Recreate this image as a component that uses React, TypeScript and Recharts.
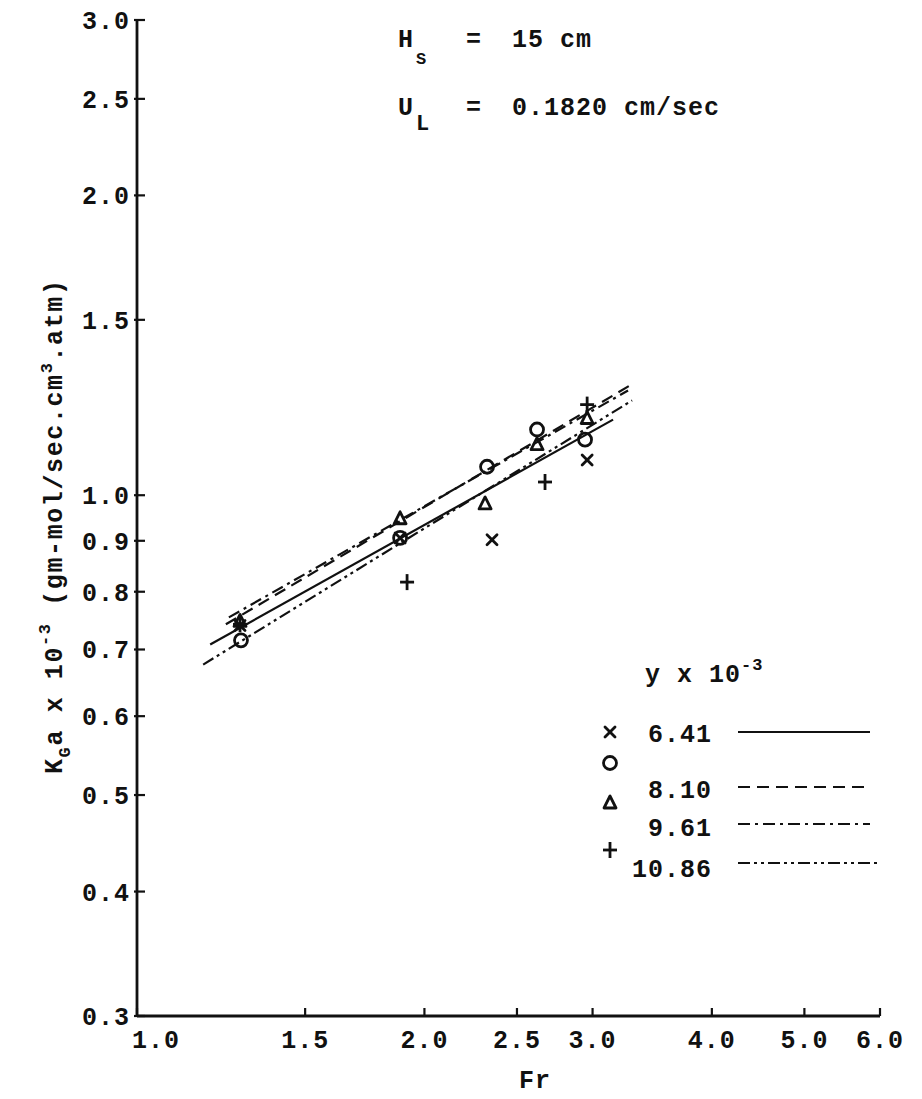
import React from 'react';
import { ComposedChart, XAxis, YAxis, Line, Scatter, Customized } from 'recharts';

const FONT = '"Liberation Mono", "DejaVu Sans Mono", monospace';

// Axis ticks (log-log paper)
const xTicks = [1.0, 1.5, 2.0, 2.5, 3.0, 4.0, 5.0, 6.0];
const xTickLabels = ['1.0', '1.5', '2.0', '2.5', '3.0', '4.0', '5.0', '6.0'];
const yTicks = [0.3, 0.4, 0.5, 0.6, 0.7, 0.8, 0.9, 1.0, 1.5, 2.0, 2.5, 3.0];
const yTickLabels = ['0.3', '0.4', '0.5', '0.6', '0.7', '0.8', '0.9', '1.0', '1.5', '2.0', '2.5', '3.0'];

// Series (y x 10^-3)
const seriesNames = ['6.41', '8.10', '9.61', '10.86'];

// Measured points: Fr and KGa x 10^-3
const fr641 = [1.282, 1.886, 2.354, 2.961];
const kga641 = [0.740, 0.906, 0.902, 1.085];
const fr810 = [1.285, 1.886, 2.326, 2.624, 2.946];
const kga810 = [0.715, 0.906, 1.068, 1.164, 1.137];
const fr961 = [1.282, 1.886, 2.315, 2.624, 2.961];
const kga961 = [0.747, 0.947, 0.980, 1.124, 1.194];
const fr1086 = [1.282, 1.918, 2.675, 2.961];
const kga1086 = [0.742, 0.818, 1.031, 1.233];

// Fitted lines (end points)
const fitFr641 = [1.193, 3.152];
const fitKga641 = [0.708, 1.191];
const fitFr810 = [1.239, 3.284];
const fitKga810 = [0.742, 1.289];
const fitFr961 = [1.248, 3.268];
const fitKga961 = [0.754, 1.274];
const fitFr1086 = [1.173, 3.300];
const fitKga1086 = [0.676, 1.245];

const zip = (xs: number[], ys: number[]) => xs.map((fr, i) => ({ fr, k: ys[i] }));

const pts641 = zip(fr641, kga641);
const pts810 = zip(fr810, kga810);
const pts961 = zip(fr961, kga961);
const pts1086 = zip(fr1086, kga1086);
const line641 = zip(fitFr641, fitKga641);
const line810 = zip(fitFr810, fitKga810);
const line961 = zip(fitFr961, fitKga961);
const line1086 = zip(fitFr1086, fitKga1086);

const INK = '#111';
const dashes = ['0', '12 7', '12 5 3 5', '12 4 3 4 3 4'];

const XMark = ({ cx, cy }: any) => (
  <g stroke={INK} strokeWidth={2.8} strokeLinecap="round">
    <line x1={cx - 5} y1={cy - 5} x2={cx + 5} y2={cy + 5} />
    <line x1={cx - 5} y1={cy + 5} x2={cx + 5} y2={cy - 5} />
  </g>
);
const OMark = ({ cx, cy }: any) => (
  <circle cx={cx} cy={cy} r={6.5} fill="none" stroke={INK} strokeWidth={2.8} />
);
const TMark = ({ cx, cy }: any) => (
  <polygon
    points={`${cx},${cy - 7} ${cx - 6},${cy + 5} ${cx + 6},${cy + 5}`}
    fill="none"
    stroke={INK}
    strokeWidth={2.8}
    strokeLinejoin="round"
  />
);
const PMark = ({ cx, cy }: any) => (
  <g stroke={INK} strokeWidth={2.8}>
    <line x1={cx - 7} y1={cy} x2={cx + 7} y2={cy} />
    <line x1={cx} y1={cy - 8} x2={cx} y2={cy + 8} />
  </g>
);

const nearestIndex = (arr: number[], v: number) => {
  let best = 0;
  arr.forEach((t, i) => {
    if (Math.abs(Math.log(t) - Math.log(v)) < Math.abs(Math.log(arr[best]) - Math.log(v))) best = i;
  });
  return best;
};

const textStyle = { fontFamily: FONT, fontWeight: 700, fontSize: 25, fill: INK, letterSpacing: 1 } as any;

const YTick = (props: any) => {
  const { x, y, payload } = props;
  const i = nearestIndex(yTicks, payload.value);
  return (
    <g>
      <line x1={x - 3} x2={x + 8} y1={y} y2={y} stroke={INK} strokeWidth={2.2} />
      <text x={x - 7} y={y} dy="0.36em" textAnchor="end" {...textStyle}>
        {yTickLabels[i]}
      </text>
    </g>
  );
};

const XTick = (props: any) => {
  const { x, y, payload } = props;
  const i = nearestIndex(xTicks, payload.value);
  return (
    <g>
      <line x1={x} x2={x} y1={y} y2={y - 8} stroke={INK} strokeWidth={2.2} />
      <text
        x={i === 0 ? x - 5 : x}
        y={y + 32}
        textAnchor={i === 0 ? 'start' : 'middle'}
        {...textStyle}
      >
        {xTickLabels[i]}
      </text>
    </g>
  );
};

const Annotations = () => {
  const small = { ...textStyle, fontSize: 17 };
  const lab = { ...textStyle, fontSize: 25, letterSpacing: 1.6 };
  const legendY = [733, 789, 827, 868];
  const lineY = [732, 787, 824, 863];
  const symY = [732, 763, 803, 850];
  const marks = [XMark, OMark, TMark, PMark];
  return (
    <g>
      {/* Conditions */}
      <text x={398} y={47} {...textStyle}>H</text>
      <text x={416} y={64} {...small}>S</text>
      <text x={466} y={47} {...textStyle}>=</text>
      <text x={512} y={47} {...textStyle}>15 cm</text>
      <text x={398} y={115} {...textStyle}>U</text>
      <text x={416} y={130} {...{ ...textStyle, fontSize: 22 }}>L</text>
      <text x={466} y={115} {...textStyle}>=</text>
      <text x={512} y={115} {...textStyle}>0.1820 cm/sec</text>

      {/* Axis titles */}
      <text x={535} y={1088} textAnchor="middle" {...textStyle}>Fr</text>
      <g transform="translate(62,774) rotate(-90)">
        <text x={0} y={0} {...lab}>
          <tspan>K</tspan>
          <tspan dy={8} fontSize={17}>G</tspan>
          <tspan dy={-8}>a x 10</tspan>
          <tspan dy={-12} fontSize={17}>-3</tspan>
          <tspan dy={12}>{' (gm-mol/sec.cm'}</tspan>
          <tspan dy={-10} fontSize={17}>3</tspan>
          <tspan dy={10}>.atm)</tspan>
        </text>
      </g>

      {/* Legend */}
      <text x={645} y={682} {...textStyle}>
        <tspan>y x 10</tspan>
        <tspan dy={-12} fontSize={17}>-3</tspan>
      </text>
      {seriesNames.map((name, i) => {
        const M = marks[i];
        return (
          <g key={name}>
            <M cx={610} cy={symY[i]} />
            <text x={712} y={legendY[i]} dy="0.36em" textAnchor="end" {...textStyle}>
              {name}
            </text>
            <line
              x1={738}
              x2={i === 3 ? 880 : 870}
              y1={lineY[i]}
              y2={lineY[i]}
              stroke={INK}
              strokeWidth={2}
              strokeDasharray={dashes[i]}
            />
          </g>
        );
      })}
    </g>
  );
};

export default function App() {
  return (
    <div style={{ position: 'absolute', left: 0, top: 0, width: 922, height: 1099, background: '#fff' }}>
      <ComposedChart
        width={922}
        height={1099}
        margin={{ top: 20, right: 42, left: 37, bottom: 23 }}
      >
        <XAxis
          dataKey="fr"
          type="number"
          scale="log"
          domain={[1.0, 6.0]}
          ticks={xTicks}
          interval={0}
          allowDataOverflow
          height={60}
          tickSize={0}
          tickMargin={0}
          tickLine={false}
          axisLine={{ stroke: INK, strokeWidth: 2.8 }}
          tick={<XTick />}
        />
        <YAxis
          dataKey="k"
          type="number"
          scale="log"
          domain={[0.3, 3.0]}
          ticks={yTicks}
          interval={0}
          allowDataOverflow
          width={100}
          tickSize={0}
          tickMargin={0}
          tickLine={false}
          axisLine={{ stroke: INK, strokeWidth: 2.8 }}
          tick={<YTick />}
        />
        <Line data={line641} dataKey="k" stroke={INK} strokeWidth={2.2} dot={false} isAnimationActive={false} strokeDasharray={dashes[0]} />
        <Line data={line810} dataKey="k" stroke={INK} strokeWidth={2.2} dot={false} isAnimationActive={false} strokeDasharray={dashes[1]} />
        <Line data={line961} dataKey="k" stroke={INK} strokeWidth={2.2} dot={false} isAnimationActive={false} strokeDasharray={dashes[2]} />
        <Line data={line1086} dataKey="k" stroke={INK} strokeWidth={2.2} dot={false} isAnimationActive={false} strokeDasharray={dashes[3]} />
        <Scatter data={pts641} dataKey="k" isAnimationActive={false} shape={(p: any) => <XMark cx={p.cx} cy={p.cy} />} />
        <Scatter data={pts810} dataKey="k" isAnimationActive={false} shape={(p: any) => <OMark cx={p.cx} cy={p.cy} />} />
        <Scatter data={pts961} dataKey="k" isAnimationActive={false} shape={(p: any) => <TMark cx={p.cx} cy={p.cy} />} />
        <Scatter data={pts1086} dataKey="k" isAnimationActive={false} shape={(p: any) => <PMark cx={p.cx} cy={p.cy} />} />
        <Customized component={Annotations} />
      </ComposedChart>
    </div>
  );
}
